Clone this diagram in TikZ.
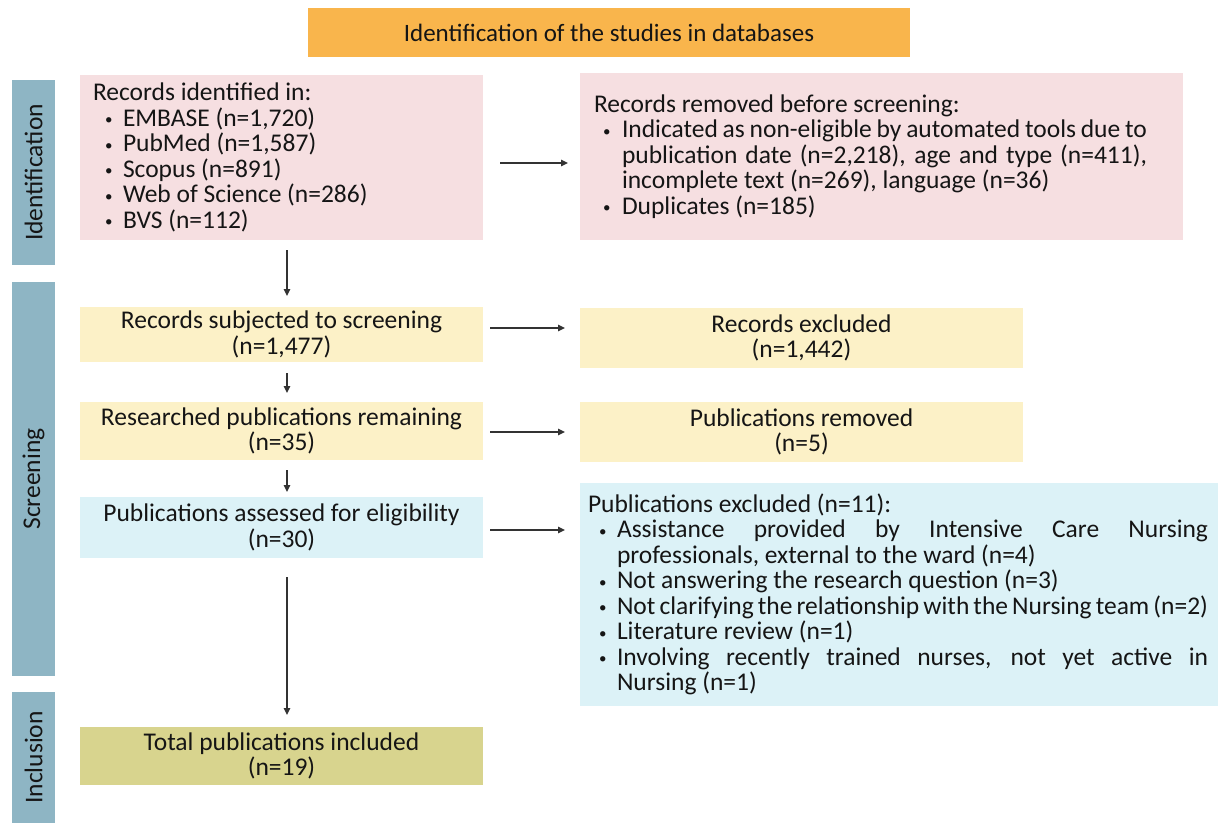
\documentclass[tikz,border=0pt]{standalone}
\usepackage{fontspec}
\setmainfont{Carlito}
\usetikzlibrary{arrows.meta,calc}
\definecolor{orng}{HTML}{F9B54C}
\definecolor{sideblue}{HTML}{8EB5C4}
\definecolor{pinkc}{HTML}{F6DFE1}
\definecolor{yelc}{HTML}{FCF1C7}
\definecolor{bluec}{HTML}{DCF2F7}
\definecolor{olivec}{HTML}{D8D48E}
\definecolor{txt}{HTML}{151515}
\definecolor{arrc}{HTML}{333333}
\newcommand\smbul{\raisebox{1.8pt}{\fontsize{15}{15}\selectfont\textbullet}}
\newcommand\bul[2]{\par\leftskip=#1\relax\noindent\llap{\hbox to #1{\hskip #2\smbul\hfil}}\ignorespaces}
\tikzset{
  every node/.style={text=txt, font=\fontsize{25.5}{25.5}\selectfont},
  box/.style={inner sep=0pt, outer sep=0pt, align=center},
  side/.style={box, fill=sideblue, minimum height=43pt, rotate=90},
  arr/.style={draw=arrc, line width=1.3pt, -{Triangle[length=7pt,width=6.5pt]}}
}
\begin{document}
\begin{tikzpicture}[x=1pt,y=-1pt]
\useasboundingbox[fill=white] (0,0) rectangle (1219,823);
% banner
\node[box, fill=orng, minimum width=602pt, minimum height=49pt, font=\fontsize{25}{25}\selectfont] (ban) at (609,32.5) {Identification of the studies in databases};
% side bars
\node[side, minimum width=185pt] (sid) at (33.5,172.5) {Identification};
\node[side, minimum width=394pt] (sscr) at (33.5,479) {Screening};
\node[side, minimum width=131pt] (sinc) at (33.5,757.5) {Inclusion};
% identification
\node[box, fill=pinkc, minimum width=403pt, minimum height=165pt] (rid) at (281.5,157.5) {\begin{minipage}{377pt}Records identified in:%
\bul{30pt}{12pt}EMBASE (n=1,720)%
\bul{30pt}{12pt}PubMed (n=1,587)%
\bul{30pt}{12pt}Scopus (n=891)%
\bul{30pt}{12pt}Web of Science (n=286)%
\bul{30pt}{12pt}BVS (n=112)\end{minipage}};
\node[box, fill=pinkc, minimum width=603pt, minimum height=167pt] (rrm) at (881.5,156.5) {\begin{minipage}{575pt}\rightskip=22pt Records removed before screening:%
\bul{28pt}{9pt}Indicated as non-eligible by automated tools due to\linebreak publication date (n=2,218), age and type (n=411),\linebreak incomplete text (n=269), language (n=36)%
\bul{28pt}{9pt}Duplicates (n=185)\end{minipage}};
% screening
\node[box, fill=yelc, minimum width=403pt, minimum height=55pt] (rscr) at (281.5,334.5) {Records subjected to screening\\(n=1,477)};
\node[box, fill=yelc, minimum width=443pt, minimum height=60pt] (rexc) at (801.5,338) {Records excluded\\(n=1,442)};
\node[box, fill=yelc, minimum width=403pt, minimum height=58pt] (rrem) at (281.5,431) {Researched publications remaining\\(n=35)};
\node[box, fill=yelc, minimum width=443pt, minimum height=60pt] (prem) at (801.5,432) {Publications removed\\(n=5)};
\node[box, fill=bluec, minimum width=403pt, minimum height=61pt] (pass) at (281.5,527.5) {Publications assessed for eligibility\\(n=30)};
\node[box, fill=bluec, minimum width=638pt, minimum height=223pt] (pexc) at (899,594.5) {\begin{minipage}{622pt}\rightskip=2pt Publications excluded (n=11):%
\bul{29pt}{11pt}Assistance provided by Intensive Care Nursing\linebreak professionals, external to the ward (n=4)%
\bul{29pt}{11pt}Not answering the research question (n=3)%
\bul{29pt}{11pt}Not clarifying the relationship with the Nursing team (n=2)%
\bul{29pt}{11pt}Literature review (n=1)%
\bul{29pt}{11pt}Involving recently trained nurses, not yet active in\linebreak Nursing (n=1)\end{minipage}};
% inclusion
\node[box, fill=olivec, minimum width=403pt, minimum height=58pt] (tot) at (281.5,756) {Total publications included\\(n=19)};
% arrows
\draw[arr] ($(rid.east)+(17,5.5)$) -- ($(rrm.west |- rid.east)+(-12,5.5)$);
\draw[arr] ($(rscr.east)+(7,-6.5)$) -- ($(rexc.west |- rscr.east)+(-15,-6.5)$);
\draw[arr] ($(rrem.east)+(7,1)$) -- ($(prem.west |- rrem.east)+(-15,1)$);
\draw[arr] ($(pass.east)+(7,2.5)$) -- ($(pexc.west |- pass.east)+(-15,2.5)$);
\draw[arr] ($(rid.south)+(5.5,10)$) -- ($(rscr.north)+(5.5,-11)$);
\draw[arr] ($(rscr.south)+(5.5,11)$) -- ($(rrem.north)+(5.5,-9)$);
\draw[arr] ($(rrem.south)+(5.5,10)$) -- ($(pass.north)+(5.5,-5)$);
\draw[arr] ($(pass.south)+(5.5,19)$) -- ($(tot.north)+(5.5,-12)$);
\end{tikzpicture}
\end{document}
